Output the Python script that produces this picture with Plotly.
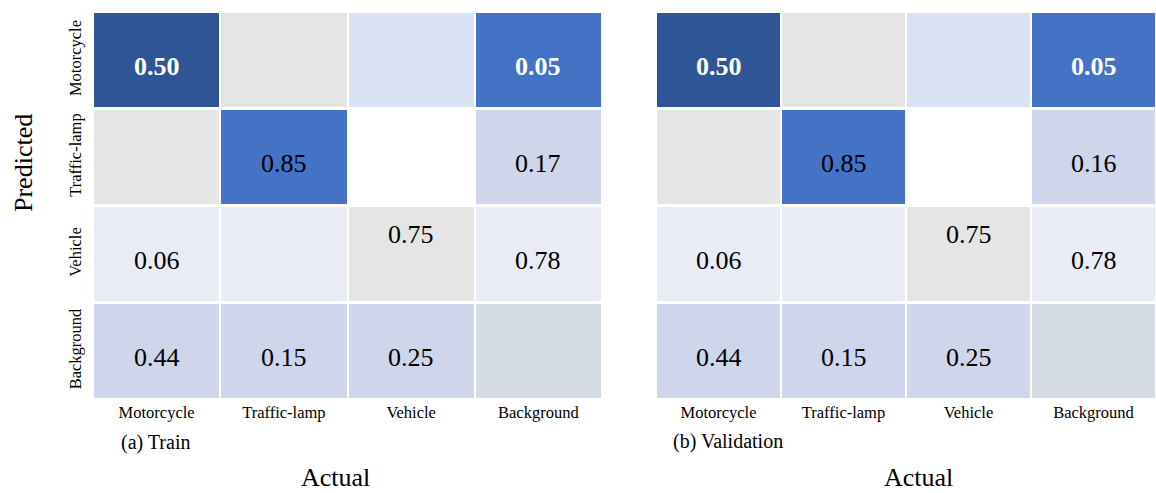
import plotly.graph_objects as go

# ---------------- data ----------------
classes = ["Motorcycle", "Traffic-lamp", "Vehicle", "Background"]

train_values = [
    ["0.50", None, None, "0.05"],
    [None, "0.85", None, "0.17"],
    ["0.06", None, "0.75", "0.78"],
    ["0.44", "0.15", "0.25", None],
]
val_values = [
    ["0.50", None, None, "0.05"],
    [None, "0.85", None, "0.16"],
    ["0.06", None, "0.75", "0.78"],
    ["0.44", "0.15", "0.25", None],
]

# ---------------- style ----------------
palette = ["#2F5597", "#4472C4", "#E5E5E5", "#DAE3F3", "#FFFFFF",
           "#CFD5EA", "#E9EBF5", "#D6DCE5"]
cell_color_idx = [
    [0, 2, 3, 1],
    [2, 1, 4, 5],
    [6, 6, 2, 6],
    [5, 5, 5, 7],
]
bold_white_cells = {(0, 0), (0, 3)}
label_shift = {(2, 2): 26}
FONT = "Liberation Serif, Times New Roman, serif"

n = len(palette)
colorscale = [[i / (n - 1), c] for i, c in enumerate(palette)]

fig = go.Figure()
for k, vals in enumerate([train_values, val_values]):
    xa = "x" if k == 0 else "x2"
    ya = "y" if k == 0 else "y2"
    fig.add_trace(go.Heatmap(
        x=classes, y=classes, z=cell_color_idx,
        colorscale=colorscale, zmin=0, zmax=n - 1, showscale=False,
        xgap=2, ygap=3, hoverinfo="skip", xaxis=xa, yaxis=ya,
    ))
    for r, row in enumerate(vals):
        for c, v in enumerate(row):
            if v is None:
                continue
            bw = (r, c) in bold_white_cells
            fig.add_annotation(
                x=classes[c], y=classes[r], xref=xa, yref=ya,
                text=f"<b>{v}</b>" if bw else v, showarrow=False,
                yshift=-6 + label_shift.get((r, c), 0),
                font=dict(family=FONT, size=26, color="white" if bw else "black"),
            )

ytop = 1 - 12 / 493
ybot = 1 - 400 / 493
axis_common = dict(showgrid=False, zeroline=False, showline=False, ticks="",
                   tickfont=dict(family=FONT, size=16.5, color="black"))
fig.update_layout(
    width=1156, height=493,
    margin=dict(l=0, r=0, t=0, b=0),
    paper_bgcolor="white", plot_bgcolor="white",
    xaxis=dict(domain=[93 / 1156, 602 / 1156], anchor="y", **axis_common),
    yaxis=dict(domain=[ybot, ytop], anchor="x", autorange="reversed",
               tickangle=-90, ticklabelstandoff=8, **axis_common),
    xaxis2=dict(domain=[656 / 1156, 1.0], anchor="y2", **axis_common),
    yaxis2=dict(domain=[ybot, ytop], anchor="x2", autorange="reversed",
                showticklabels=False, **axis_common),
)

def paper_text(text, x, y, size, angle=0, xanchor="center"):
    fig.add_annotation(text=text, x=x / 1156, y=1 - y / 493, xref="paper", yref="paper",
                       showarrow=False, textangle=angle, xanchor=xanchor, yanchor="middle",
                       font=dict(family=FONT, size=size, color="black"))

paper_text("Predicted", 23, 163, 26, angle=-90)
paper_text("Actual", 335, 477, 26)
paper_text("Actual", 918, 477, 26)
paper_text("(a) Train", 119, 442, 20, xanchor="left")
paper_text("(b) Validation", 671, 441, 20, xanchor="left")

fig.write_html("out.html")
